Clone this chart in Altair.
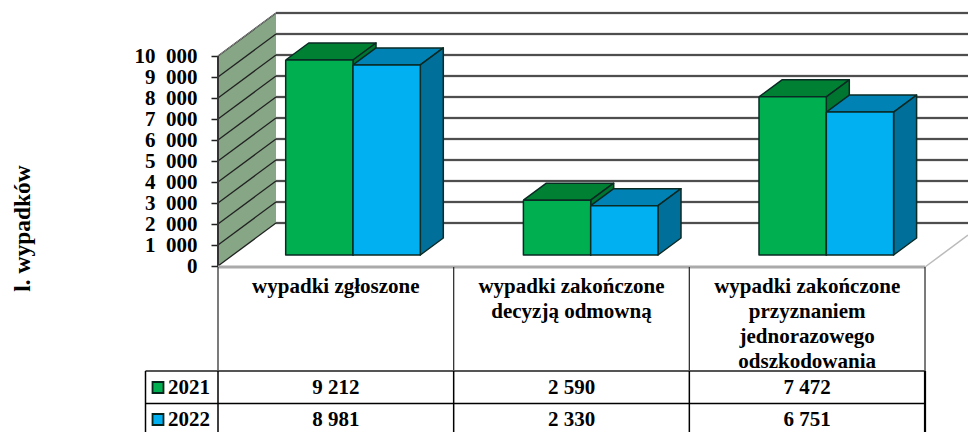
import altair as alt
import pandas as pd

categories = ["wypadki zgłoszone", "wypadki zakończone\ndecyzją odmowną",
              "wypadki zakończone\nprzyznaniem\njednorazowego\nodszkodowania"]
years = ["2021", "2022"]
values_2021 = [9212, 2590, 7472]
values_2022 = [8981, 2330, 6751]
y_ticks = list(range(0, 11000, 1000))
axis_title = "l. wypadków"

W, H = 960, 424
COL = 235.67          # px per category
UNIT = 0.021          # px per case
# image px -> scale units
def U(px): return (px - 218) / COL
def V(py): return (266 - py) / UNIT
def fmt(v): return f"{v:,}".replace(",", " ")

x_scale = alt.Scale(domain=[U(8), U(8 + W)], range=[0, W], nice=False, zero=False)
y_scale = alt.Scale(domain=[V(8 + H), V(8)], range=[H, 0], nice=False, zero=False)
y_axis = alt.Axis(
    values=y_ticks, labelExpr="replace(format(datum.value, ','), ',', '\u2002')",
    offset=-210, domain=False, grid=False, tickSize=7, tickColor="#222", tickWidth=1.5,
    labelFont="Liberation Serif", labelFontWeight="bold", labelFontSize=21, labelColor="#000",
    labelPadding=14, labelOverlap=False, labelFlush=False,
    title=axis_title, titleFont="Liberation Serif", titleFontWeight="bold", titleFontSize=23.5,
    titleColor="#000", titleAngle=270, titleX=-189, titleY=220, titleAlign="center",
    titleBaseline="alphabetic")
X = lambda f="x": alt.X(f"{f}:Q", scale=x_scale, axis=None)
Y = lambda f="y": alt.Y(f"{f}:Q", scale=y_scale, axis=y_axis, title=axis_title)

WALL_DX, WALL_DV = 58 / COL, 43 / UNIT
FRONT_DX, FRONT_DV = 17 / COL, 11 / UNIT
BAR_DX, BAR_DV = 23 / COL, 17 / UNIT
BAR_W = 67.3 / COL
PERSPECTIVE = 1.008
OUTLINE = "#0A2A24"


def face(area_rows, outline_pts, fill):
    """One filled bar face: an area plus its closed outline."""
    a = alt.Chart(pd.DataFrame(area_rows, columns=["x", "y", "y2"])).mark_area(
        color=fill, orient="vertical", opacity=1).encode(x=X(), y=Y(), y2=alt.Y2("y2:Q"))
    o = pd.DataFrame(outline_pts, columns=["x", "y"])
    o["i"] = range(len(o))
    l = alt.Chart(o).mark_line(color=OUTLINE, strokeWidth=1.5, strokeJoin="round").encode(
        x=X(), y=Y(), order=alt.Order("i:Q"))
    return [a, l]


palette = {"2021": ("#00B050", "#008033", "#00752F"),
           "2022": ("#00B0F0", "#0083B4", "#006F9A")}
centers = [U(353), U(590.7), U(826.3)]
bar_layers = []
for c, (v1, v2) in enumerate(zip(values_2021, values_2022)):
    for s, (yr, val) in enumerate(zip(years, (v1, v2))):
        front, top, side = palette[yr]
        x0 = centers[c] + (s - 1) * BAR_W
        x1 = x0 + BAR_W
        b = FRONT_DV
        t = b + val * PERSPECTIVE
        d = BAR_DX
        v = BAR_DV
        bar_layers += face(
            [(x0, t, t), (x0 + d, t + v, t), (x1, t + v, t), (x1 + d, t + v, t + v)],
            [(x0, t), (x0 + d, t + v), (x1 + d, t + v), (x1, t), (x0, t)], top)
        bar_layers += face(
            [(x1, t, b), (x1 + d, t + v, b + v)],
            [(x1, t), (x1 + d, t + v), (x1 + d, b + v), (x1, b), (x1, t)], side)
        bar_layers += face(
            [(x0, t, b), (x1, t, b)],
            [(x0, t), (x1, t), (x1, b), (x0, b), (x0, t)], front)

# ---- side wall
wall_df = pd.DataFrame({"x": [0, WALL_DX], "y": [10000, 10000 + WALL_DV], "y2": [0, WALL_DV]})
wall = alt.Chart(wall_df).mark_area(color="#86A686", orient="vertical").encode(
    x=X(), y=Y(), y2=alt.Y2("y2:Q"))


# ---- lines
def segs(items, color, width, opacity=1.0):
    rows = []
    for i, ((x0, y0), (x1, y1)) in enumerate(items):
        rows += [dict(id=i, x=x0, y=y0), dict(id=i, x=x1, y=y1)]
    return alt.Chart(pd.DataFrame(rows)).mark_line(
        color=color, strokeWidth=width, opacity=opacity, clip=True).encode(
        x=X(), y=Y(), detail="id:N", order=alt.Order("x:Q"))


XR = U(8 + W)
grid_back = [((WALL_DX, t + WALL_DV), (XR, t + WALL_DV)) for t in y_ticks]
grid_wall = [((0, t), (WALL_DX, t + WALL_DV)) for t in y_ticks]
floor_front = [((0, V(267)), (3, V(267)))]
floor_diag = [((3, V(267)), (XR, V(267 - 43 * 43 / 58)))]
wall_edge = [((0, 0), (0, 10000))]
wall_top = [((0, 10000), (WALL_DX, 10000 + WALL_DV))]

# ---- table
v_top, v_r1, v_r2, v_bot = V(267), V(371), V(403.5), V(433)
x_left = U(145.5)
table_grey = [((i, v_top), (i, v_r1)) for i in range(4)]
table_black = [((x_left, v_r2), (3, v_r2)), ((x_left, v_r1), (x_left, v_bot)),
               ((0, v_r1), (0, v_bot)), ((1, v_r1), (1, v_bot)), ((2, v_r1), (2, v_bot))]
table_head = [((x_left, v_r1), (3, v_r1))]
table_right = [((3, v_r1), (3, v_bot))]

TXT = dict(font="Liberation Serif", fontWeight="bold", color="#000")
cat_df = pd.DataFrame({"x": [i + 0.5 for i in range(3)], "y": [V(276)] * 3, "t": categories})
cat_text = alt.Chart(cat_df).mark_text(baseline="top", align="center", fontSize=21, lineHeight=25,
                                       lineBreak="\n", **TXT).encode(x=X(), y=Y(), text="t:N")

rows = []
for yr, vals, py in zip(years, (values_2021, values_2022), (387.5, 419.5)):
    for i, v in enumerate(vals):
        rows.append(dict(x=i + 0.5, y=V(py), t=fmt(v)))
val_text = alt.Chart(pd.DataFrame(rows)).mark_text(baseline="middle", align="center", fontSize=21, **TXT).encode(
    x=X(), y=Y(), text="t:N")

yr_df = pd.DataFrame({"x": [U(168)] * 2, "y": [V(387.5), V(419.5)], "t": years,
                      "fill": [palette[y][0] for y in years]})
yr_text = alt.Chart(yr_df).mark_text(baseline="middle", align="left", fontSize=21, **TXT).encode(
    x=X(), y=Y(), text="t:N")
keys = alt.Chart(yr_df.assign(x=U(158))).mark_point(
    shape="square", filled=True, size=120, stroke="#06231C", strokeWidth=1.8, opacity=1).encode(
    x=X(), y=Y(), fill=alt.Fill("fill:N", scale=None))

chart = alt.layer(
    wall,
    segs(grid_back, "#999999", 3, 0.45),
    segs(grid_back, "#222222", 1.3),
    segs(grid_wall, "#222222", 1.3),
    segs(wall_top, "#888888", 1),
    segs(wall_edge, "#333333", 2),
    segs(floor_front, "#AAAAAA", 3),
    segs(floor_diag, "#BBBBBB", 1.5),
    *bar_layers,
    segs(table_grey, "#333333", 1.3),
    segs(table_head, "#555555", 2),
    segs(table_black, "#000000", 1.5),
    segs(table_right, "#000000", 2.2),
    cat_text, val_text, yr_text, keys,
).properties(
    width=W, height=H, padding=0,
    autosize=alt.AutoSizeParams(type="none", contains="padding"),
    background="white",
).configure_view(stroke=None)

chart.save("out.html", embed_options={"renderer": "svg", "actions": False})
